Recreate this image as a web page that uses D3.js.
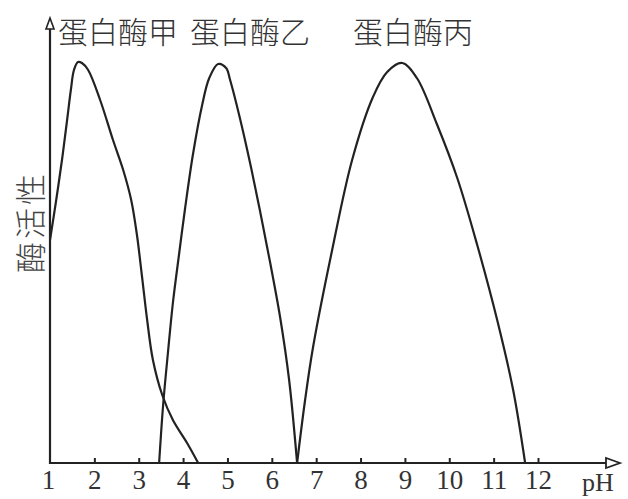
<!DOCTYPE html>
<html><head><meta charset="utf-8">
<script src="https://cdn.jsdelivr.net/npm/d3@7"></script>
<style>body{margin:0;background:#fff}svg{display:block}</style>
</head><body>
<svg id="c" width="628" height="499"></svg>
<script>
const seriesNames = ["蛋白酶甲", "蛋白酶乙", "蛋白酶丙"];
const xTicks = [1,2,3,4,5,6,7,8,9,10,11,12];
const xLabel = "pH";
const yLabel = "酶活性";
// [pH, activity]
const enzymeA = [[1.00,55.75],[1.14,65.75],[1.27,75.75],[1.38,85.25],[1.47,93.25],[1.54,98.25],[1.63,100.25],[1.72,100],[1.86,98.25],[2.13,90.75],[2.42,80.75],[2.65,73.25],[2.83,65.75],[2.96,57],[3.07,47],[3.19,35.75],[3.32,25.75],[3.53,17],[3.77,10.75],[4.09,5],[4.34,0]];
const enzymeB = [[3.46,0],[3.55,14.5],[3.66,27.75],[3.77,40],[3.91,52.25],[4.04,63.25],[4.22,77],[4.43,89.5],[4.59,96.25],[4.79,99.75],[4.97,98.75],[5.06,95.75],[5.28,86.25],[5.51,75],[5.73,63.25],[5.96,50.25],[6.19,36.25],[6.39,20.75],[6.57,0]];
const enzymeC = [[6.57,0],[6.75,15.75],[6.93,29],[7.36,53.25],[7.81,75.75],[8.28,91.5],[8.60,97.75],[8.94,100],[9.27,96.25],[9.72,84.75],[10.18,71.25],[10.63,54.5],[11.08,35.75],[11.44,18.25],[11.71,0]];
const series = [enzymeA, enzymeB, enzymeC];

const svg = d3.select("#c");
const x = d3.scaleLinear().domain([1,12]).range([50,538]);
const y = d3.scaleLinear().domain([0,100]).range([463,63]);
const ink = "#222";

// curves
const line = d3.line().x(d=>x(d[0])).y(d=>y(d[1])).curve(d3.curveCatmullRom.alpha(0.5));
svg.selectAll("path.s").data(series).join("path")
  .attr("class","s").attr("d",line)
  .attr("fill","none").attr("stroke",ink).attr("stroke-width",2.2).attr("stroke-linejoin","round");

// x axis ticks and labels
const ax = svg.append("g").attr("transform",`translate(0,${y(0)})`)
  .call(d3.axisBottom(x).tickValues(xTicks).tickSize(-5).tickPadding(7).tickFormat(d3.format("d")));
ax.select(".domain").remove();
ax.selectAll(".tick line").attr("stroke",ink).attr("stroke-width",2);
ax.selectAll(".tick").filter(d=>d===1).select("line").remove();
ax.selectAll(".tick text").attr("font-family","'Liberation Serif','DejaVu Serif',serif").attr("font-size",27).attr("fill","#333");
ax.selectAll(".tick").filter(d=>d===1).select("text").attr("x",-2);

// axis lines
const xEnd = 620, yTop = 18;
svg.append("line").attr("x1",x(1)).attr("x2",xEnd-14).attr("y1",y(0)).attr("y2",y(0)).attr("stroke",ink).attr("stroke-width",2.2);
svg.append("line").attr("x1",x(1)).attr("x2",x(1)).attr("y1",y(0)+1).attr("y2",yTop+10).attr("stroke",ink).attr("stroke-width",2.2);
svg.append("path").attr("d",`M${xEnd},${y(0)} L${xEnd-14},${y(0)-5} L${xEnd-14},${y(0)+5} Z`)
  .attr("fill","#fff").attr("stroke",ink).attr("stroke-width",1.8);
svg.append("path").attr("d",`M${x(1)},${yTop} L${x(1)-4},${yTop+11} L${x(1)+4},${yTop+11} Z`)
  .attr("fill","#fff").attr("stroke",ink).attr("stroke-width",1.6);

// axis labels
svg.append("text").attr("x",598).attr("y",491).attr("text-anchor","middle")
  .attr("font-family","'Liberation Serif',serif").attr("font-size",26).attr("fill","#333").text(xLabel);
svg.append("text").attr("transform","translate(28,222) rotate(-90)")
  .attr("text-anchor","middle").attr("dominant-baseline","central")
  .attr("font-family","'Noto Sans CJK SC',sans-serif").attr("font-size",31).attr("font-weight",300).attr("letter-spacing",3)
  .attr("fill","#444").text(yLabel);

// series titles
const titleX = [118, 250, 413];
svg.selectAll("text.t").data(seriesNames).join("text").attr("class","t")
  .attr("x",(d,i)=>titleX[i]).attr("y",30).attr("text-anchor","middle").attr("dominant-baseline","central")
  .attr("font-family","'Noto Sans CJK SC',sans-serif").attr("font-size",30).attr("font-weight",300).attr("fill","#333").text(d=>d);
</script>
</body></html>
